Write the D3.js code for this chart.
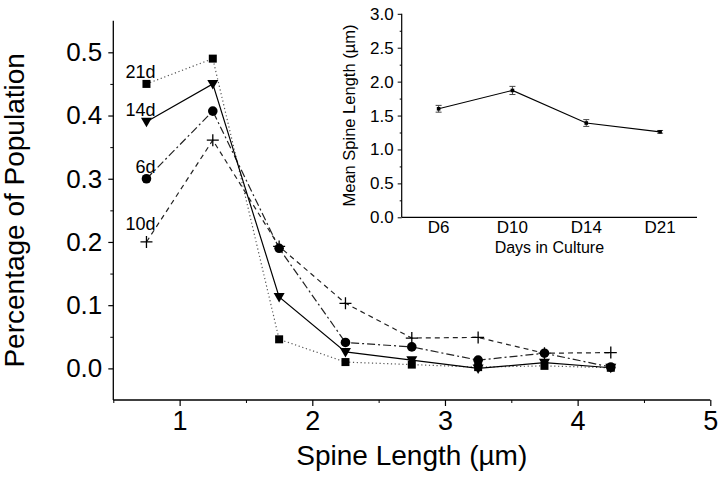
<!DOCTYPE html>
<html><head><meta charset="utf-8">
<script src="https://cdn.jsdelivr.net/npm/d3@7"></script>
<style>
body{margin:0;background:#fff;}
svg{display:block;font-family:"Liberation Sans",Arial,sans-serif;}
</style></head>
<body>
<svg id="chart" width="720" height="477"></svg>
<script>
// ---- Main chart data ----
const spineLengths = [0.75, 1.25, 1.75, 2.25, 2.75, 3.25, 3.75, 4.25];
const d21 = [0.45, 0.49, 0.046, 0.010, 0.006, 0.002, 0.004, 0.001];
const d14 = [0.39, 0.45, 0.113, 0.026, 0.013, 0.000, 0.009, 0.001];
const d6  = [0.30, 0.407, 0.19, 0.041, 0.034, 0.013, 0.024, 0.002];
const d10 = [0.20, 0.361, 0.193, 0.103, 0.048, 0.049, 0.024, 0.025];
const seriesLabels = ["21d", "14d", "6d", "10d"];
const xTicks = [1, 2, 3, 4, 5];
const yTicks = [0.0, 0.1, 0.2, 0.3, 0.4, 0.5];

// ---- Inset data ----
const days = ["D6", "D10", "D14", "D21"];
const meanLength = [1.60, 1.87, 1.39, 1.26];
const meanErr = [0.05, 0.06, 0.05, 0.02];
const insetYTicks = [0.0, 0.5, 1.0, 1.5, 2.0, 2.5, 3.0];

const svg = d3.select("#chart");
const FONT = '"Liberation Sans",Arial,sans-serif';

// ---- Main scales ----
const x = d3.scaleLinear().domain([0.5, 5]).range([113.3, 710.3]);
const y = d3.scaleLinear().domain([-0.05, 0.55]).range([400, 20.7]);

const main = svg.append("g");

// axes lines
main.append("line").attr("x1", x(0.5)).attr("x2", x(0.5)).attr("y1", y(0.55)).attr("y2", y(-0.05))
  .attr("stroke", "#000").attr("stroke-width", 1.3);
main.append("line").attr("x1", x(0.5)).attr("x2", x(5)).attr("y1", y(-0.05)).attr("y2", y(-0.05))
  .attr("stroke", "#000").attr("stroke-width", 1.3);

// y ticks
const yAxis = d3.axisLeft(y).tickValues(yTicks).tickFormat(d3.format(".1f")).tickSize(5).tickPadding(6);
const gy = main.append("g").attr("transform", `translate(${x(0.5)},0)`).call(yAxis);
gy.select(".domain").remove();
gy.selectAll("text").attr("font-size", 26).attr("font-family", FONT).attr("fill", "#000");
gy.selectAll("line").attr("stroke-width", 1.2);
const yMinor = d3.axisLeft(y).tickValues([0.05, 0.15, 0.25, 0.35, 0.45]).tickFormat("").tickSize(3);
const gym = main.append("g").attr("transform", `translate(${x(0.5)},0)`).call(yMinor);
gym.select(".domain").remove();

// x ticks
const xAxis = d3.axisBottom(x).tickValues(xTicks).tickFormat(d3.format("d")).tickSize(6).tickPadding(5);
const gx = main.append("g").attr("transform", `translate(0,${y(-0.05)})`).call(xAxis);
gx.select(".domain").remove();
gx.selectAll("text").attr("font-size", 27).attr("font-family", FONT).attr("fill", "#000");
gx.selectAll("line").attr("stroke-width", 1.2);
const xMinor = d3.axisBottom(x).tickValues([0.5, 1.5, 2.5, 3.5, 4.5]).tickFormat("").tickSize(3);
const gxm = main.append("g").attr("transform", `translate(0,${y(-0.05)})`).call(xMinor);
gxm.select(".domain").remove();

// axis titles
main.append("text").attr("x", (x.range()[0] + x.range()[1]) / 2).attr("y", 465)
  .attr("text-anchor", "middle").attr("font-size", 28).attr("font-family", FONT)
  .text("Spine Length (µm)");
main.append("text").attr("transform", `translate(24,${(y.range()[0] + y.range()[1]) / 2}) rotate(-90)`)
  .attr("text-anchor", "middle").attr("font-size", 28).attr("font-family", FONT)
  .text("Percentage of Population");

// series
const series = [
  {label: "10d", vals: d10, dash: "5,4", color: "#222", marker: "plus"},
  {label: "6d", vals: d6, dash: "8,3,2,3", color: "#222", marker: "circle"},
  {label: "21d", vals: d21, dash: "1.2,2.6", color: "#555", marker: "square"},
  {label: "14d", vals: d14, dash: null, color: "#000", marker: "tri"},
];

const line = d3.line().x(d => x(d[0])).y(d => y(d[1]));

series.forEach(s => {
  const pts = spineLengths.map((v, i) => [v, s.vals[i]]);
  main.append("path").datum(pts).attr("d", line).attr("fill", "none")
    .attr("stroke", s.color).attr("stroke-width", 1.2)
    .attr("stroke-dasharray", s.dash);
  const g = main.append("g");
  pts.forEach(p => {
    const cx = x(p[0]), cy = y(p[1]);
    if (s.marker === "square") {
      g.append("rect").attr("x", cx - 4).attr("y", cy - 4).attr("width", 8).attr("height", 8).attr("fill", "#000");
    } else if (s.marker === "circle") {
      g.append("circle").attr("cx", cx).attr("cy", cy).attr("r", 4.8).attr("fill", "#000");
    } else if (s.marker === "tri") {
      g.append("path").attr("d", `M${cx - 5.5},${cy - 4}L${cx + 5.5},${cy - 4}L${cx},${cy + 5.5}Z`).attr("fill", "#000");
    } else {
      g.append("path").attr("d", `M${cx - 6},${cy}H${cx + 6}M${cx},${cy - 6}V${cy + 6}`)
        .attr("stroke", "#000").attr("stroke-width", 1.3).attr("fill", "none");
    }
  });
  // label near first point
  main.append("text").attr("x", x(spineLengths[0]) + 9).attr("y", y(s.vals[0]) - (s.label === "10d" ? 12 : 6))
    .attr("text-anchor", "end").attr("font-size", 18).attr("font-family", FONT).text(s.label);
});

// ---- Inset ----
const ix = d3.scaleBand().domain(days).range([401.7, 697]);
const iy = d3.scaleLinear().domain([0, 3]).range([217.3, 13.8]);
const inset = svg.append("g");

inset.append("line").attr("x1", 401.7).attr("x2", 401.7).attr("y1", iy(3)).attr("y2", iy(0))
  .attr("stroke", "#000").attr("stroke-width", 1.2);
inset.append("line").attr("x1", ix.range()[0]).attr("x2", ix.range()[1]).attr("y1", iy(0)).attr("y2", iy(0))
  .attr("stroke", "#000").attr("stroke-width", 1.2);

const iyAxis = d3.axisLeft(iy).tickValues(insetYTicks).tickFormat(d3.format(".1f")).tickSize(4).tickPadding(4);
const giy = inset.append("g").attr("transform", "translate(401.7,0)").call(iyAxis);
giy.select(".domain").remove();
giy.selectAll("text").attr("font-size", 17).attr("font-family", FONT).attr("fill", "#000");
const iyMinor = d3.axisLeft(iy).tickValues([0.25, 0.75, 1.25, 1.75, 2.25, 2.75]).tickFormat("").tickSize(2);
const giym = inset.append("g").attr("transform", "translate(401.7,0)").call(iyMinor);
giym.select(".domain").remove();

const ixAxis = d3.axisBottom(ix).tickSize(0).tickPadding(4);
const gix = inset.append("g").attr("transform", `translate(0,${iy(0)})`).call(ixAxis);
gix.select(".domain").remove();
gix.selectAll("text").attr("font-size", 17).attr("font-family", FONT).attr("fill", "#000");

inset.append("text").attr("x", (ix.range()[0] + ix.range()[1]) / 2).attr("y", 253)
  .attr("text-anchor", "middle").attr("font-size", 16).attr("font-family", FONT).text("Days in Culture");
inset.append("text").attr("transform", `translate(355,${(iy.range()[0] + iy.range()[1]) / 2}) rotate(-90)`)
  .attr("text-anchor", "middle").attr("font-size", 16.5).attr("font-family", FONT).text("Mean Spine Length (µm)");

const ipts = days.map((d, i) => [ix(d) + ix.bandwidth() / 2, iy(meanLength[i]), i]);
inset.append("path").datum(ipts).attr("d", d3.line().x(d => d[0]).y(d => d[1]))
  .attr("fill", "none").attr("stroke", "#000").attr("stroke-width", 1.1);
ipts.forEach(p => {
  const i = p[2];
  const top = iy(meanLength[i] + meanErr[i]), bot = iy(meanLength[i] - meanErr[i]);
  inset.append("path").attr("d", `M${p[0]},${top}V${bot}M${p[0] - 3},${top}H${p[0] + 3}M${p[0] - 3},${bot}H${p[0] + 3}`)
    .attr("stroke", "#444").attr("stroke-width", 1).attr("fill", "none");
  inset.append("rect").attr("x", p[0] - 1.8).attr("y", p[1] - 1.8).attr("width", 3.6).attr("height", 3.6).attr("fill", "#000");
});
</script>
</body></html>
